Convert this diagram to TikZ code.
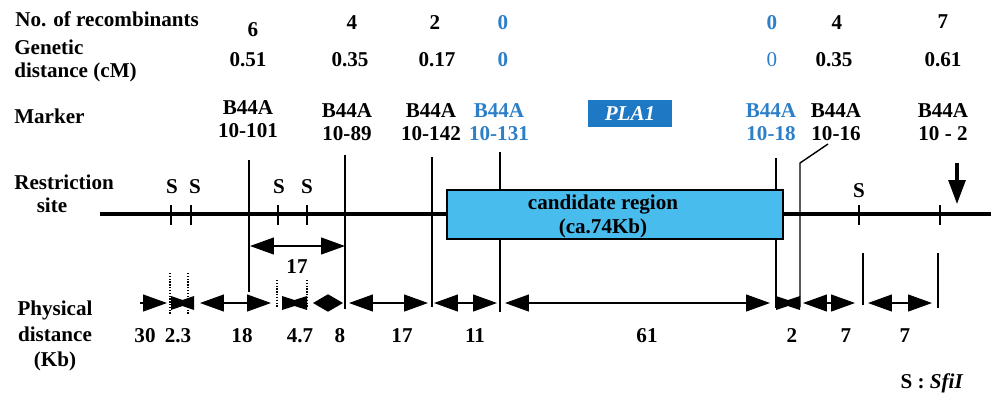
\documentclass[tikz,border=0pt]{standalone}
\usepackage{fontspec}
\setmainfont{Liberation Serif}
\usetikzlibrary{arrows.meta,calc}
\definecolor{hitblue}{RGB}{45,128,200}
\definecolor{regionblue}{RGB}{72,188,236}
\definecolor{genblue}{RGB}{30,120,196}
% filled bow tie between two points
\newcommand{\drawbow}[2]{\fill ($(#1)+(0,-7)$) -- ($(#1)!0.5!(#2)+(0,-3)$) -- ($(#2)+(0,-7)$) -- ($(#2)+(0,7)$) -- ($(#1)!0.5!(#2)+(0,3)$) -- ($(#1)+(0,7)$) -- cycle;}

\begin{document}
\begin{tikzpicture}
    [x=0.025cm, y=-0.025cm,
    every node/.style={font=\fontsize{15}{16.5}\selectfont\bfseries, inner sep=0pt},
    lbl/.style={anchor=west, align=left},
    hit/.style={text=hitblue},
    mline/.style={line width=1pt},
    tick/.style={line width=0.9pt},
    dots/.style={line width=1pt, densely dotted},
    dist/.style={line width=1pt, {Triangle[length=#1,width=12pt]}-{Triangle[length=#1,width=12pt]}},
    dist/.default=17pt,
    regionbox/.style={draw, line width=1.7pt, fill=regionblue},
    genebox/.style={fill=genblue, text=white, font=\fontsize{15}{16.5}\selectfont\bfseries\itshape}]
        \useasboundingbox (0,0) rectangle (991,397);

        %% row labels
        \node[lbl] (recomb) at (15,19) {No. of recombinants};
        \node[lbl] (genetic) at (14,61) {Genetic\\distance (cM)};
        \node[lbl] (marker) at (14,116) {Marker};
        \node[lbl] (restr) at (14,182) {Restriction};
        \node (site) at (52,205) {site};
        \node[align=center, font=\fontsize{15}{18}\selectfont\bfseries] (phys) at (55,336) {Physical\\distance\\(Kb)};

        %% recombinants and genetic distance
        \node (r101) at (253,30) {6};     \node (g101) at (248,60) {0.51};
        \node (r89) at (352,23) {4};      \node (g89) at (350,60) {0.35};
        \node (r142) at (435,23) {2};     \node (g142) at (437,60) {0.17};
        \node[hit] (r131) at (503,23) {0}; \node[hit] (g131) at (503,60) {0};
        \node[hit] (r18) at (772,23) {0};  \node[hit, font=\fontsize{15}{16.5}\selectfont] (g18) at (772,60) {0};
        \node (r16) at (837,23) {4};      \node (g16) at (834,60) {0.35};
        \node (r2) at (943,22) {7};       \node (g2) at (943,60) {0.61};

        %% markers
        \node[align=center] (m101) at (248,119) {B44A\\10-101};
        \node[align=center] (m89) at (347,122) {B44A\\10-89};
        \node[align=center] (m142) at (431,122) {B44A\\10-142};
        \node[align=center, hit] (m131) at (499,122) {B44A\\10-131};
        \node[genebox, minimum width=2.075cm, minimum height=0.675cm] (pla) at (630,113.5) {PLA1};
        \node[align=center, hit] (m18) at (771,122) {B44A\\10-18};
        \node[align=center] (m16) at (836,122) {B44A\\10-16};
        \node[align=center] (m2) at (943,122) {B44A\\10 - 2};

        %% marker lines
        \coordinate (l101a) at (249,160); \coordinate (l101b) at (249,292);
        \coordinate (l89a) at (345,155);  \coordinate (l89b) at (345,309);
        \coordinate (l142a) at (432,157); \coordinate (l142b) at (432,307);
        \coordinate (l131a) at (500,152); \coordinate (l131b) at (500,312);
        \coordinate (l18a) at (776,158);  \coordinate (l18b) at (776,308);
        \coordinate (l16a) at (828,144);  \coordinate (l16k) at (800,163); \coordinate (l16b) at (800,307);
        \coordinate (lsa) at (863,253);   \coordinate (lsb) at (863,305);
        \coordinate (l2a) at (938,253);   \coordinate (l2b) at (938,308);
        \draw[mline] (l101a) -- (l101b);
        \draw[mline] (l89a) -- (l89b);
        \draw[mline] (l142a) -- (l142b);
        \draw[mline] (l131a) -- (l131b);
        \draw[mline] (l18a) -- (l18b);
        \draw[mline] (l16a) -- (l16k) -- (l16b);
        \draw[mline] (lsa) -- (lsb);
        \draw[mline] (l2a) -- (l2b);

        %% chromosome and restriction sites
        \coordinate (chrl) at (100,214); \coordinate (chrr) at (991,214);
        \draw[line width=2.5pt] (chrl) -- (chrr);
        \node (s1) at (172,187) {S};
        \node (s2) at (195,187) {S};
        \node (s3) at (279,187) {S};
        \node (s4) at (307,187) {S};
        \node (s5) at (859,191) {S};
        \draw[tick] (171,205) -- (171,225);
        \draw[tick] (191,205) -- (191,225);
        \draw[tick] (278,205) -- (278,225);
        \draw[tick] (307,205) -- (307,225);
        \draw[tick] (859,205) -- (859,225);
        \draw[tick] (940,205) -- (940,225);

        \coordinate (dna) at (957,163); \coordinate (dnb) at (957,204);
        \draw[line width=2.2pt, -{Triangle[length=17pt,width=12pt]}] (dna) -- (dnb);

        %% candidate region
        \node[regionbox, minimum width=8.4cm, minimum height=1.225cm] (cand) at (615,214.5) {};
        \node[align=center] (candtxt) at (603,216.5) {candidate region\\(ca.74Kb)};

        %% 17 kb span
        \coordinate (spa) at (250,246); \coordinate (spb) at (345,246);
        \draw[dist] (spa) -- (spb);
        \node (sp17) at (297,267) {17};

        %% physical distance
        \draw[dots] (170,273) -- (170,315);
        \draw[dots] (188,273) -- (188,315);
        \draw[dots] (277,280) -- (277,308);
        \draw[dots] (307,280) -- (307,308);

        \coordinate (d1a) at (140,303);  \coordinate (d1b) at (167,303);
        \coordinate (d2a) at (171,303);  \coordinate (d2b) at (194,303);
        \coordinate (d3a) at (200,303);  \coordinate (d3b) at (271,303);
        \coordinate (d4a) at (282,303);  \coordinate (d4b) at (307,303);
        \coordinate (d5a) at (313,303);  \coordinate (d5b) at (343,303);
        \coordinate (d6a) at (349,303);  \coordinate (d6b) at (428,303);
        \coordinate (d7a) at (434,303);  \coordinate (d7b) at (497,303);
        \coordinate (d8a) at (505,303);  \coordinate (d8b) at (770,303);
        \coordinate (d9a) at (776,303);  \coordinate (d9b) at (800,303);
        \coordinate (d10a) at (803,303); \coordinate (d10b) at (855,303);
        \coordinate (d11a) at (868,303); \coordinate (d11b) at (932,303);
        \draw[line width=1pt, -{Triangle[length=17pt,width=12pt]}] (d1a) -- (d1b);
        \drawbow{d2a}{d2b}
        \draw[dist] (d3a) -- (d3b);
        \drawbow{d4a}{d4b}
        \draw[dist=10.5pt] (d5a) -- (d5b);
        \draw[dist] (d6a) -- (d6b);
        \draw[dist] (d7a) -- (d7b);
        \draw[dist] (d8a) -- (d8b);
        \drawbow{d9a}{d9b}
        \draw[dist] (d10a) -- (d10b);
        \draw[dist] (d11a) -- (d11b);

        \node (k1) at (145,336) {30};
        \node (k2) at (178,336) {2.3};
        \node (k3) at (242,336) {18};
        \node (k4) at (300,336) {4.7};
        \node (k5) at (340,336) {8};
        \node (k6) at (402,336) {17};
        \node (k7) at (475,336) {11};
        \node (k8) at (647,336) {61};
        \node (k9) at (792,336) {2};
        \node (k10) at (846,336) {7};
        \node (k11) at (905,336) {7};

        %% legend
        \node (legend) at (932,383) {S : \textit{SfiI}};
    \end{tikzpicture}
\end{document}
